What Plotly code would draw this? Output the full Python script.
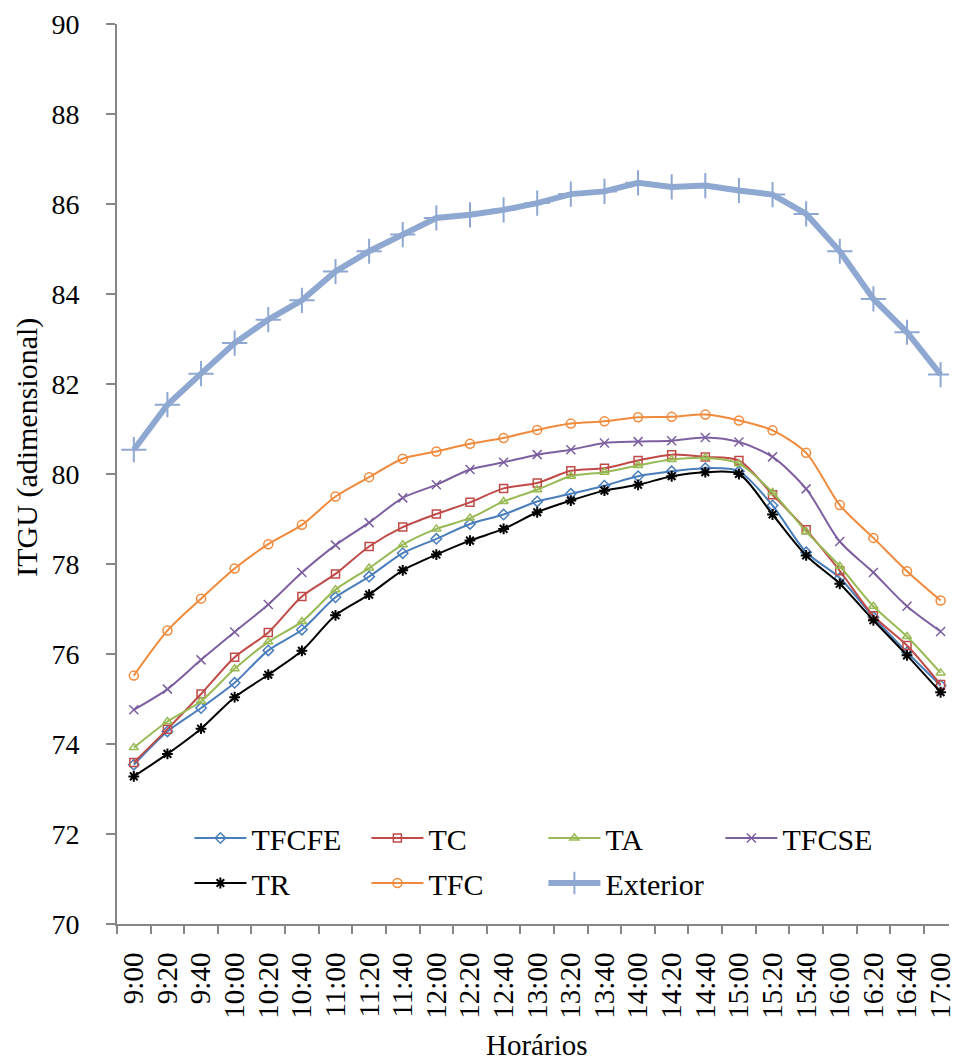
import plotly.graph_objects as go

times = ["9:00", "9:20", "9:40", "10:00", "10:20", "10:40", "11:00", "11:20", "11:40",
         "12:00", "12:20", "12:40", "13:00", "13:20", "13:40", "14:00", "14:20", "14:40",
         "15:00", "15:20", "15:40", "16:00", "16:20", "16:40", "17:00"]

tfcfe = [73.54, 74.28, 74.80, 75.36, 76.08, 76.54, 77.26, 77.72, 78.24, 78.56, 78.89, 79.10,
         79.39, 79.56, 79.74, 79.95, 80.06, 80.13, 80.06, 79.30, 78.26, 77.69, 76.82, 76.04, 75.30]
tc = [73.59, 74.33, 75.11, 75.93, 76.48, 77.28, 77.78, 78.39, 78.82, 79.11, 79.37, 79.68,
      79.80, 80.07, 80.13, 80.30, 80.43, 80.38, 80.30, 79.54, 78.76, 77.85, 76.85, 76.19, 75.32]
ta = [73.92, 74.50, 74.95, 75.67, 76.27, 76.72, 77.43, 77.91, 78.43, 78.78, 79.02, 79.39,
      79.65, 79.95, 80.04, 80.19, 80.32, 80.36, 80.23, 79.59, 78.72, 77.95, 77.06, 76.39, 75.58]
tfcse = [74.76, 75.22, 75.87, 76.49, 77.10, 77.81, 78.42, 78.92, 79.47, 79.76, 80.10, 80.26,
         80.43, 80.54, 80.69, 80.72, 80.74, 80.81, 80.71, 80.38, 79.67, 78.50, 77.81, 77.06, 76.50]
tr = [73.28, 73.78, 74.34, 75.04, 75.54, 76.07, 76.86, 77.32, 77.86, 78.21, 78.52, 78.78,
      79.15, 79.41, 79.63, 79.76, 79.95, 80.04, 80.00, 79.10, 78.19, 77.56, 76.75, 75.97, 75.15]
tfc = [75.52, 76.52, 77.23, 77.90, 78.44, 78.87, 79.50, 79.93, 80.34, 80.50, 80.67, 80.80,
       80.98, 81.12, 81.17, 81.26, 81.27, 81.32, 81.19, 80.97, 80.47, 79.31, 78.58, 77.84, 77.19]
exterior = [80.54, 81.54, 82.23, 82.91, 83.43, 83.86, 84.50, 84.95, 85.32, 85.69, 85.76, 85.87,
            86.02, 86.22, 86.28, 86.47, 86.38, 86.41, 86.30, 86.21, 85.78, 84.95, 83.89, 83.15, 82.21]

FONT = "Liberation Serif, Times New Roman, serif"
W, H = 956, 1061
ML, MR, MT, MB = 117, 0, 24, 137
PW, PH = W - ML - MR, H - MT - MB
STEP = 33.9

def px_x(px):
    return (px - ML) / PW

def px_y(py):
    return (H - MB - py) / PH

series = [
    ("TFCFE", tfcfe, "#4A7EBB", "diamond-open", 8, 1.5, "legend"),
    ("TC", tc, "#BE4B48", "square-open", 8, 1.5, "legend"),
    ("TA", ta, "#98B954", "triangle-up-open", 8, 1.5, "legend"),
    ("TFCSE", tfcse, "#7D60A0", "x-thin-open", 9, 1.5, "legend"),
    ("TR", tr, "#000000", "asterisk-open", 9, 2, "legend2"),
    ("TFC", tfc, "#F08A3C", "circle-open", 9, 1.5, "legend2"),
]

fig = go.Figure()
for name, vals, col, sym, msz, mlw, lg in series:
    fig.add_trace(go.Scatter(
        x=times, y=vals, name=name, mode="lines+markers",
        line=dict(color=col, width=2, shape="spline", smoothing=0.8),
        marker=dict(symbol=sym, size=msz, color=col, line=dict(color=col, width=mlw)),
        legend=lg,
    ))

fig.add_trace(go.Scatter(
    x=times, y=exterior, name="Exterior", mode="lines+markers",
    line=dict(color="#8EA8D1", width=6),
    marker=dict(symbol="cross-thin", size=18, color="#8EA8D1", line=dict(color="#8EA8D1", width=2)),
    legend="legend2",
))

legend_common = dict(
    orientation="h", font=dict(family=FONT, size=30, color="#000000"),
    bgcolor="rgba(0,0,0,0)", itemwidth=52, entrywidth=110, entrywidthmode="pixels",
    xanchor="left", yanchor="middle", tracegroupgap=0, itemclick=False,
)

fig.update_layout(
    width=W, height=H,
    margin=dict(l=ML, r=MR, t=MT, b=MB),
    paper_bgcolor="white", plot_bgcolor="white",
    font=dict(family=FONT, size=28, color="#000000"),
    showlegend=True,
    legend=dict(x=px_x(190), y=px_y(838), **legend_common),
    legend2=dict(x=px_x(190), y=px_y(883), **legend_common),
    xaxis=dict(
        type="category", range=[-0.5, -0.5 + PW / STEP],
        tickmode="linear", tick0=0, dtick=1,
        showline=True, linecolor="#868686", linewidth=2,
        ticks="outside", ticklen=8, tickcolor="#868686", tickwidth=2,
        tickson="boundaries", tickangle=-90,
        tickfont=dict(family=FONT, size=29, color="#000000"),
        showgrid=False, zeroline=False, ticklabelstandoff=15,
    ),
    yaxis=dict(
        range=[70, 90], dtick=2, tick0=70,
        showline=True, linecolor="#868686", linewidth=2,
        ticks="outside", ticklen=9, tickcolor="#868686", tickwidth=2,
        tickfont=dict(family=FONT, size=28, color="#000000"),
        showgrid=False, zeroline=False, ticklabelstandoff=21,
    ),
    annotations=[
        dict(text="ITGU (adimensional)", xref="paper", yref="paper",
             x=px_x(26), y=px_y(447), xanchor="center", yanchor="middle",
             textangle=-90, showarrow=False, font=dict(family=FONT, size=30, color="#000000")),
        dict(text="Horários", xref="paper", yref="paper",
             x=px_x(540), y=px_y(1045), xanchor="center", yanchor="middle",
             showarrow=False, font=dict(family=FONT, size=29, color="#000000")),
    ],
)

fig.write_html("out.html")
